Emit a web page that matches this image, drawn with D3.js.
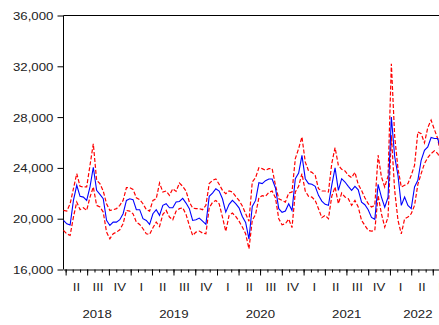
<!DOCTYPE html>
<html>
<head>
<meta charset="utf-8">
<script src="https://cdn.jsdelivr.net/npm/d3@7"></script>
<style>
  body { margin: 0; background: #fff; }
  svg { display: block; }
</style>
</head>
<body>
<svg id="chart" width="439" height="325"></svg>
<script>
// readings taken every two weeks off the picture, first one on 2018-03-23
const startDate = new Date(2018, 2, 23);
const stepDays = 14;

const central = [
  19865, 19600, 19500, 21440, 22630, 21760, 21700, 21440, 22500, 24050,
  22230, 21920, 21570, 19865, 19470, 19730, 19730, 19920, 20390, 21440,
  21570, 21500, 20710, 20710, 20000, 19865, 19550, 20390, 20710, 20260,
  21050, 21180, 20860, 20860, 21310, 21360, 21600, 21230, 20790, 19865,
  19920, 20050, 19810, 19550, 21760, 22020, 22360, 22180, 21570, 20520,
  21130, 21440, 21180, 20860, 20180, 19700, 18400, 20970, 21440, 22840,
  22760, 22995, 23130, 23130, 22420, 20790, 20500, 20600, 21180, 20650,
  23150, 23600, 24990, 23150, 22760, 22710, 22550, 21840, 21390, 21130,
  21050, 22630, 24000, 22230, 23150, 22890, 22550, 22230, 22550, 22280,
  21310, 21100, 20700, 20100, 19950, 22700, 21700, 20900, 21700, 28000,
  24900, 23400, 21050, 21710, 21050, 20790, 22500, 23020, 24600, 25390,
  25650, 26390, 26310, 26310, 25390
];

const upper = [
  20650, 20600, 21180, 22360, 23550, 22550, 22500, 22500, 24200, 25900,
  23020, 22760, 22180, 21180, 20650, 20710, 20790, 21050, 21440, 22440,
  22440, 22310, 21650, 21500, 21180, 20710, 20600, 21440, 21570, 22810,
  22100, 22180, 21840, 22360, 22150, 22810, 22550, 22180, 21310, 20840,
  20790, 20790, 20710, 21050, 22760, 23020, 23130, 22710, 22230, 21970,
  22180, 22100, 21760, 21440, 21000, 20400, 19800, 22890, 23230, 24020,
  23940, 23810, 23940, 23940, 22630, 21570, 21440, 21310, 22020, 22100,
  24730, 25520, 26440, 24470, 23760, 23650, 23420, 22360, 22180, 22180,
  22100, 24340, 25600, 24200, 23890, 23760, 23420, 23230, 23650, 22700,
  22230, 21650, 21180, 20920, 21050, 25000, 23300, 22500, 23340, 32200,
  26500, 23940, 22500, 22630, 22760, 23420, 24200, 26830, 26700, 25970,
  27180, 27760, 27020, 26310, 24860
];

const lower = [
  19075, 18810, 18680, 20130, 21310, 20710, 20860, 20650, 21700, 22500,
  21050, 20920, 20520, 18945, 18420, 18810, 18945, 19130, 19600, 20650,
  20600, 20390, 19730, 19550, 19210, 18810, 18760, 19290, 19730, 19390,
  20340, 20650, 20130, 19920, 20600, 20790, 20860, 20340, 19470, 18680,
  18945, 19025, 18870, 18810, 20860, 21280, 21440, 21180, 20130, 19000,
  20260, 20440, 20180, 19810, 19340, 18810, 17630, 19865, 20340, 21650,
  21810, 21760, 22070, 22180, 21650, 20000, 19520, 19600, 19970, 19300,
  22100, 22550, 23550, 22180, 21760, 21700, 21440, 20790, 20080, 20260,
  20000, 21760, 22500, 21180, 22020, 21710, 21570, 21050, 21440, 20920,
  19870, 19470, 19080, 19020, 19080, 21840, 20390, 19340, 20130, 26570,
  22230, 19870, 18800, 19990, 20130, 20390, 21050, 22700, 23550, 24340,
  24810, 25130, 25340, 25130, 24600
];

const yTicks = [16000, 20000, 24000, 28000, 32000, 36000];
const quarterNames = ["I", "II", "III", "IV"];
const years = [2018, 2019, 2020, 2021, 2022];

const dates = central.map((d, i) => d3.timeDay.offset(startDate, i * stepDays));

const svg = d3.select("#chart");
const font = "'Liberation Sans', Arial, sans-serif";
const ink = "#222";

const plotLeft = 63.5, plotTop = 15.5, plotBottom = 269.5;
const t0 = startDate, t1 = new Date(2022, 7, 25);
const pxPerDay = 86.4 / 365.25;

const x = d3.scaleTime()
  .domain([t0, t1])
  .range([plotLeft, plotLeft + (t1 - t0) / 864e5 * pxPerDay]);

const y = d3.scaleLinear()
  .domain([16000, 36000])
  .range([plotBottom, plotTop]);

// frame (right side runs off the picture)
svg.append("path")
  .attr("d", `M${plotLeft},${plotBottom}V${plotTop}H470`)
  .attr("fill", "none")
  .attr("stroke", "#000")
  .attr("stroke-width", 1);

// y axis
svg.append("g")
  .attr("transform", `translate(${plotLeft},0)`)
  .call(d3.axisLeft(y).tickValues(yTicks).tickSize(6).tickFormat(d3.format(",")))
  .call(g => g.select(".domain").remove())
  .call(g => g.selectAll("line").attr("stroke", "#000"))
  .call(g => g.selectAll("text")
    .attr("x", -8.5)
    .attr("dy", "0.36em")
    .attr("transform", "scale(1.2,1)")
    .attr("fill", ink)
    .style("font-family", font)
    .style("font-size", "11px"));

// x axis: month ticks and quarter ticks
svg.append("g")
  .attr("transform", `translate(0,${plotBottom})`)
  .call(d3.axisBottom(x).ticks(d3.timeMonth.every(1)).tickSize(3).tickSizeOuter(0).tickFormat(""))
  .call(g => g.select(".domain").attr("stroke", "#000"))
  .call(g => g.selectAll("line").attr("stroke", "#000"));

svg.append("g")
  .attr("transform", `translate(0,${plotBottom})`)
  .call(d3.axisBottom(x).ticks(d3.timeMonth.every(3)).tickSize(6).tickSizeOuter(0).tickFormat(""))
  .call(g => g.select(".domain").remove())
  .call(g => g.selectAll("line").attr("stroke", "#000"));

function label(txt, px, py) {
  svg.append("g")
    .attr("transform", `translate(${px},${py}) scale(1.2,1)`)
    .append("text")
    .attr("text-anchor", "middle")
    .attr("fill", ink)
    .style("font-family", font)
    .style("font-size", "11px")
    .text(txt);
}

// quarter labels
d3.timeMonth.every(3).range(d3.timeYear.floor(t0), t1).forEach(q => {
  const mid = new Date((+q + +d3.timeMonth.offset(q, 3)) / 2);
  if (mid < t0 || mid > t1) return;
  label(quarterNames[q.getMonth() / 3], x(mid), 291);
});

// year labels, centred on the visible part of each year
years.forEach(yr => {
  const a = d3.max([t0, new Date(yr, 0, 1)]);
  const b = d3.min([t1, new Date(yr + 1, 0, 1)]);
  label(String(yr), x(new Date((+a + +b) / 2)), 318);
});

// series
const line = d3.line()
  .x((d, i) => x(dates[i]))
  .y(d => y(d));

[upper, lower].forEach(s => {
  svg.append("path")
    .datum(s)
    .attr("d", line)
    .attr("fill", "none")
    .attr("stroke", "#ff0000")
    .attr("stroke-width", 1.2)
    .attr("stroke-dasharray", "4,2");
});

svg.append("path")
  .datum(central)
  .attr("d", line)
  .attr("fill", "none")
  .attr("stroke", "#0000ff")
  .attr("stroke-width", 1.1);
</script>
</body>
</html>
